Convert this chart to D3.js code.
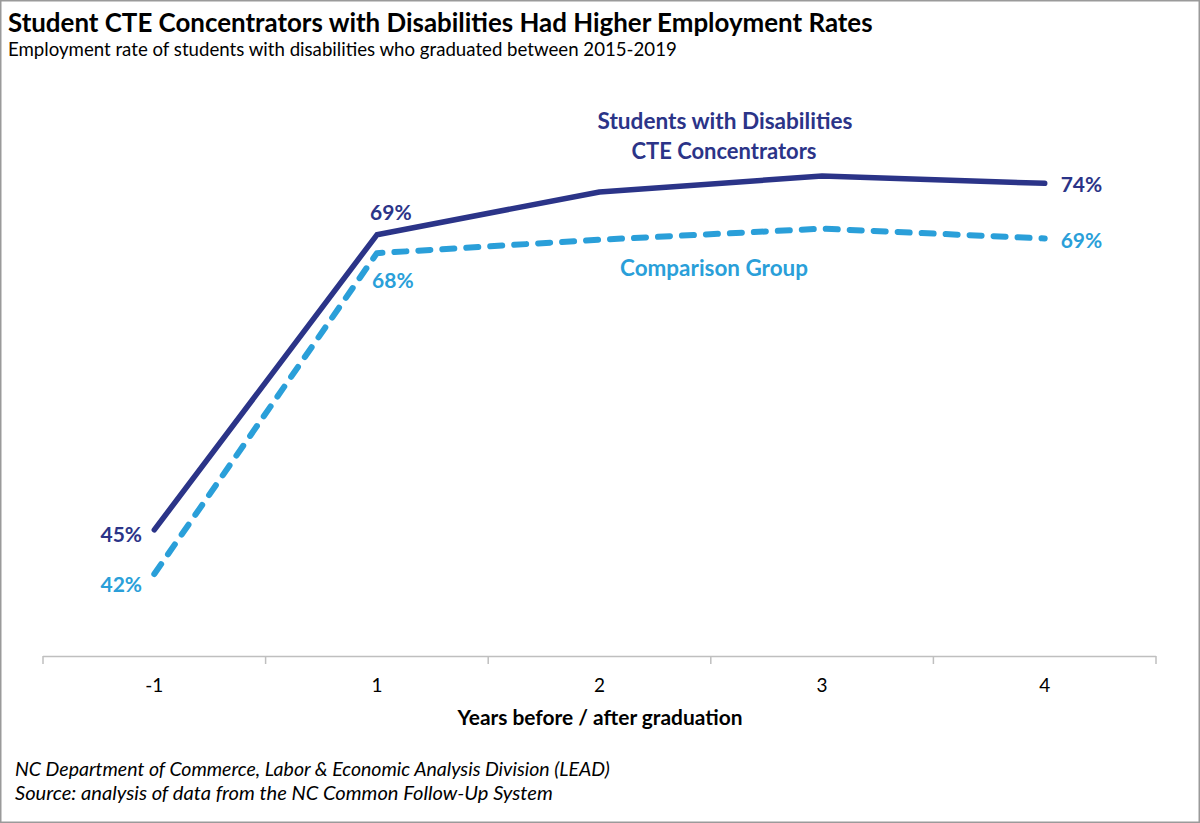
<!DOCTYPE html>
<html>
<head>
<meta charset="utf-8">
<script src="https://cdn.jsdelivr.net/npm/d3@7/dist/d3.min.js"></script>
<style>
  html, body { margin: 0; padding: 0; background: #fff; }
  svg { display: block; font-family: Lato, "Open Sans", sans-serif; }
</style>
</head>
<body>
<svg id="chart" width="1200" height="823"></svg>
<script>
// ---- data ----
const categories = ["-1", "1", "2", "3", "4"];
const cteValues = [45.3, 69.4, 72.9, 74.2, 73.6];
const comparisonValues = [41.7, 67.9, 69.0, 69.9, 69.1];
const cteLabels = ["45%", "69%", null, null, "74%"];
const comparisonLabels = ["42%", "68%", null, null, "69%"];
const yDomain = [35, 80];

const title = "Student CTE Concentrators with Disabilities Had Higher Employment Rates";
const subtitle = "Employment rate of students with disabilities who graduated between 2015-2019";
const xAxisTitle = "Years before / after graduation";
const footer = ["NC Department of Commerce, Labor & Economic Analysis Division (LEAD)",
                "Source: analysis of data from the NC Common Follow-Up System"];

const navy = "#2b3488";
const light = "#2a9fd9";

const svg = d3.select("#chart");

// frame
svg.append("rect").attr("x", 0.75).attr("y", 0.75).attr("width", 1198.5).attr("height", 821.5)
  .attr("fill", "#fff").attr("stroke", "#9a9a9a").attr("stroke-width", 1.5);

function fitText(sel, w) {
  const n = sel.node();
  const cur = n.getComputedTextLength();
  const fs = parseFloat(sel.attr("font-size"));
  sel.attr("font-size", (fs * w / cur).toFixed(2));
  return sel;
}

fitText(svg.append("text").attr("x", 8).attr("y", 32).attr("font-size", 26).attr("font-weight", 700)
  .attr("fill", "#000").text(title), 865);
fitText(svg.append("text").attr("x", 8).attr("y", 56).attr("font-size", 17)
  .attr("fill", "#000").text(subtitle), 669);

// scales
const x = d3.scaleBand().domain(categories).range([43, 1156]);
const y = d3.scaleLinear().domain(yDomain).range([656, 105]);
const cx = d => x(d) + x.bandwidth() / 2;

// x axis
const axis = d3.axisBottom(x).tickSize(0).tickPadding(23);
const gx = svg.append("g").attr("transform", `translate(0,${y(yDomain[0])})`).call(axis);
gx.select(".domain").remove();
gx.append("line").attr("x1", 43).attr("x2", 1156).attr("y1", 0.5).attr("y2", 0.5)
  .attr("stroke", "#bfbfbf").attr("stroke-width", 1.5);
const bounds = categories.map(c => x(c)).concat([x(categories[categories.length - 1]) + x.bandwidth()]);
gx.selectAll(".bt").data(bounds).enter().append("line")
  .attr("x1", d => d).attr("x2", d => d).attr("y1", 0).attr("y2", 8)
  .attr("stroke", "#bfbfbf").attr("stroke-width", 1.5);
gx.selectAll(".tick text").attr("font-family", "Lato, sans-serif").attr("font-size", 19).attr("fill", "#000");

fitText(svg.append("text").attr("x", 600).attr("y", 725).attr("text-anchor", "middle")
  .attr("font-size", 18.5).attr("font-weight", 700).attr("fill", "#000").text(xAxisTitle), 285);

// lines
const line = d3.line().x((d, i) => cx(categories[i])).y(d => y(d));
svg.append("path").datum(comparisonValues).attr("d", line).attr("fill", "none")
  .attr("stroke", light).attr("stroke-width", 6).attr("stroke-linecap", "round")
  .attr("stroke-linejoin", "round").attr("stroke-dasharray", "12,12");
svg.append("path").datum(cteValues).attr("d", line).attr("fill", "none")
  .attr("stroke", navy).attr("stroke-width", 5.5).attr("stroke-linecap", "round")
  .attr("stroke-linejoin", "round");

// data labels
const lab = (txt, px, py, anchor, color, fs) => svg.append("text").attr("x", px).attr("y", py)
  .attr("text-anchor", anchor).attr("font-size", fs || 21).attr("font-weight", 700).attr("fill", color).text(txt);

lab(cteLabels[0], cx(categories[0]) - 33, y(cteValues[0]) + 12, "middle", navy);
lab(comparisonLabels[0], cx(categories[0]) - 33, y(comparisonValues[0]) + 18, "middle", light);
lab(cteLabels[1], cx(categories[1]) + 14, y(cteValues[1]) - 15, "middle", navy);
lab(comparisonLabels[1], cx(categories[1]) + 16, y(comparisonValues[1]) + 35, "middle", light);
lab(cteLabels[4], cx(categories[4]) + 16, y(cteValues[4]) + 9, "start", navy);
lab(comparisonLabels[4], cx(categories[4]) + 16, y(comparisonValues[4]) + 10, "start", light);

// series labels
fitText(lab("Students with Disabilities", 725, 129, "middle", navy, 22), 255);
fitText(lab("CTE Concentrators", 724, 159, "middle", navy, 22), 185);
fitText(lab("Comparison Group", 714, 276, "middle", light, 22), 188);

// footer
footer.forEach((t, i) => {
  fitText(svg.append("text").attr("x", 15).attr("y", 776 + i * 24).attr("font-size", 17)
    .attr("font-style", "italic").attr("fill", "#000").text(t), 595 - i * 57);
});
</script>
</body>
</html>
